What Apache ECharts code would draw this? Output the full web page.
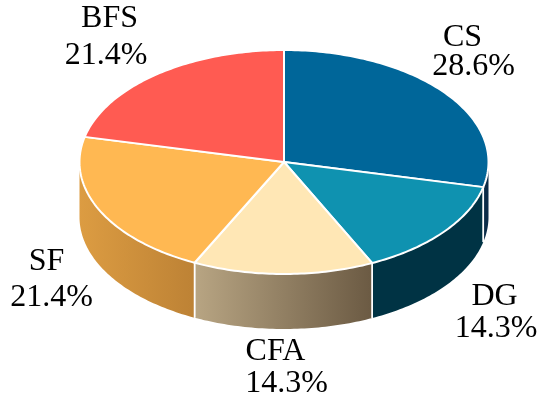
<!DOCTYPE html>
<html><head><meta charset="utf-8">
<style>html,body{margin:0;padding:0;background:#fff}#c{width:550px;height:398px}</style>
<script src="https://cdn.jsdelivr.net/npm/echarts@6/dist/echarts.min.js"></script>
</head><body><div id="c"></div>
<script>
const categories = ['CS','DG','CFA','SF','BFS'];
const shares = [28.6,14.3,14.3,21.4,21.4];
const shareLabels = ['28.6%','14.3%','14.3%','21.4%','21.4%'];

const topColors = ['#006699','#0f92b0','#ffe7b5','#ffb852','#ff5b52'];
const wallColors = [['#0b2c48','#0b2c48'],['#003344','#003344'],['#b8a583','#6b5a43'],['#dc9c42','#bd8235'],['#c24','#c24']];
const nameXY = [[462.5,37.5],[494.5,296.5],[275.5,351.5],[46.5,261.5],[109.5,19]];
const shareXY = [[473.5,67],[496,328.5],[286.5,383.5],[51.5,297.5],[106,55.5]];
const CX=284, CY=162, RX=204.5, RY=112, DEPTH=55;

const total = shares.reduce((a,b)=>a+b,0);
const pt=(deg,dy)=>{const r=deg*Math.PI/180;return [CX+RX*Math.sin(r),CY-RY*Math.cos(r)+(dy||0)];};
const arc=(a,b,dy)=>{const out=[];const n=Math.max(2,Math.ceil(Math.abs(b-a)));for(let i=0;i<=n;i++)out.push(pt(a+(b-a)*i/n,dy));return out;};

function renderItem(params,api){
  const i=api.value(0);
  let start=0;for(let k=0;k<i;k++)start+=shares[k];
  const a=start/total*360, b=(start+shares[i])/total*360;
  const children=[];
  const wa=Math.max(a,90), wb=Math.min(b,270);
  if(wb>wa){
    const top=arc(wa,wb,0), bot=arc(wb,wa,DEPTH);
    children.push({type:'polygon',shape:{points:top.concat(bot)},z2:1,style:{
      fill:{type:'linear',x:0,y:0,x2:1,y2:0,colorStops:[{offset:0,color:wallColors[i][0]},{offset:1,color:wallColors[i][1]}]},
      stroke:null}});
    [a,b].forEach(t=>{ if(t>90&&t<270){
      const p=pt(t,0);
      children.push({type:'line',shape:{x1:p[0],y1:p[1],x2:p[0],y2:p[1]+DEPTH},z2:2,style:{stroke:'#fff',lineWidth:1.5}});
    }});
  }
  children.push({type:'polygon',shape:{points:[[CX,CY]].concat(arc(a,b,0))},z2:3,style:{fill:topColors[i],stroke:'#fff',lineWidth:2,lineJoin:'round'}});
  const font='32px "Liberation Serif"';
  children.push({type:'text',z2:5,style:{x:nameXY[i][0],y:nameXY[i][1],text:categories[i],font,fill:'#000',align:'center',verticalAlign:'middle'}});
  children.push({type:'text',z2:5,style:{x:shareXY[i][0],y:shareXY[i][1],text:shareLabels[i],font,fill:'#000',align:'center',verticalAlign:'middle'}});
  return {type:'group',children};
}
const chart=echarts.init(document.getElementById('c'),null,{renderer:'canvas'});
chart.setOption({
  animation:false,
  backgroundColor:'#fff',
  series:[{type:'custom',coordinateSystem:'none',silent:true,renderItem,
    data:categories.map((c,i)=>[i,shares[i]])}]
});
</script></body></html>
